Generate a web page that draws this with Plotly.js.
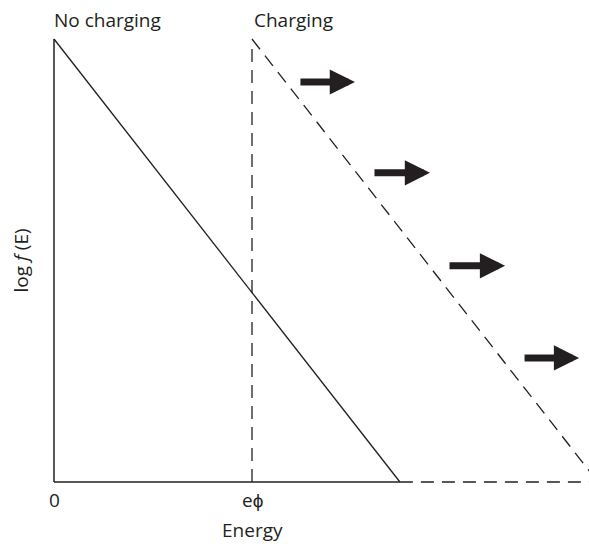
<!DOCTYPE html>
<html>
<head>
<meta charset="utf-8">
<script src="https://cdn.plot.ly/plotly-3.0.1.min.js"></script>
<style>html,body{margin:0;padding:0;background:#fff;}</style>
</head>
<body>
<div id="chart" style="width:589px;height:544px;"></div>
<script>
// Data (energy in units of eϕ, log f(E) normalised)
const energyNoCharge = [0, 1.747];
const logfNoCharge = [1, 0];
const energyCharge = [1, 2.747];
const logfCharge = [1, 0];
const axisYEnergy = [0, 0];
const axisYLogf = [0, 1];
const baseSolidEnergy = [0, 1.747];
const baseDashEnergy = [1.747, 2.75];
const baseLogf = [0, 0];
const ephiLineEnergy = [1, 1];
const ephiLineLogf = [0, 0.99];
const arrowTailX = [1.237, 1.611, 1.990, 2.369];
const arrowTipX = [1.520, 1.899, 2.278, 2.652];
const arrowY = [0.903, 0.698, 0.488, 0.280];
const tickVals = [0, 1];
const tickText = ['0', 'eϕ'];

const ink = '#231f20';
const font = {family: 'Open Sans, sans-serif', size: 19, color: ink};
const dashPat = '13px,8px';

const traces = [
  {x: energyNoCharge, y: logfNoCharge, mode: 'lines', line: {color: ink, width: 1.3}},
  {x: axisYEnergy, y: axisYLogf, mode: 'lines', line: {color: ink, width: 1.5}},
  {x: baseSolidEnergy, y: baseLogf, mode: 'lines', line: {color: ink, width: 1.5}},
  {x: baseDashEnergy, y: baseLogf, mode: 'lines', line: {color: ink, width: 1.5, dash: dashPat}},
  {x: ephiLineEnergy, y: ephiLineLogf, mode: 'lines', line: {color: ink, width: 1.3, dash: dashPat}},
  {x: energyCharge, y: logfCharge, mode: 'lines', line: {color: ink, width: 1.3, dash: dashPat}}
];

const annotations = [];
for (let i = 0; i < arrowY.length; i++) {
  annotations.push({
    x: arrowTipX[i], y: arrowY[i], ax: arrowTailX[i], ay: arrowY[i],
    xref: 'x', yref: 'y', axref: 'x', ayref: 'y',
    text: '', showarrow: true, arrowhead: 2, arrowwidth: 7, arrowsize: 0.72,
    arrowcolor: ink, standoff: 0
  });
}
for (let i = 0; i < tickVals.length; i++) {
  annotations.push({x: tickVals[i], y: -0.0173, xref: 'x', yref: 'paper', text: tickText[i],
    showarrow: false, xanchor: 'center', yanchor: 'middle', font: font});
}
annotations.push({x: 1, y: -0.083, xref: 'x', yref: 'paper', text: 'Energy', showarrow: false,
  xanchor: 'center', yanchor: 'middle', font: font});
annotations.push({x: -0.044, y: 0.5, xref: 'paper', yref: 'y', text: 'log <i>f</i> (E)', showarrow: false,
  textangle: -90, xanchor: 'center', yanchor: 'middle', font: font});
annotations.push({x: 0.0147, y: 1.0194, xref: 'paper', yref: 'paper', text: 'No charging', showarrow: false,
  xanchor: 'left', yanchor: 'middle', font: font});
annotations.push({x: 1.0, y: 1.0194, xref: 'x', yref: 'paper', text: 'Charging', showarrow: false,
  xanchor: 'left', yanchor: 'middle', font: font});

const layout = {
  width: 589, height: 544,
  margin: {l: 44, r: 0, t: 29, b: 52, pad: 0},
  paper_bgcolor: '#fff', plot_bgcolor: '#fff',
  showlegend: false,
  xaxis: {range: [-0.0505, 2.702], showgrid: false, zeroline: false, showline: false,
          showticklabels: false, ticks: '', fixedrange: true},
  yaxis: {range: [-0.0226, 1.0226], showgrid: false, zeroline: false, showline: false,
          showticklabels: false, ticks: '', fixedrange: true},
  annotations: annotations
};

Plotly.newPlot('chart', traces, layout, {staticPlot: true, displayModeBar: false});
</script>
</body>
</html>
